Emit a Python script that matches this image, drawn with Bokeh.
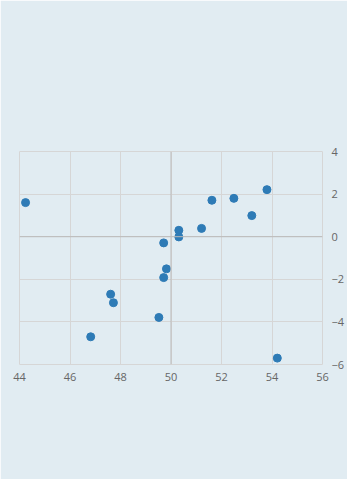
from bokeh.plotting import figure
from bokeh.models import Range1d, Span, FixedTicker
from bokeh.embed import file_html
from bokeh.resources import INLINE

x_vals = [44.24, 49.71, 50.31, 50.31, 51.21, 51.62, 52.49, 53.20, 53.80,
          49.82, 49.71, 47.61, 47.72, 49.52, 46.82, 54.21]
y_vals = [1.60, -0.29, 0.30, -0.01, 0.39, 1.71, 1.80, 0.99, 2.21,
          -1.51, -1.92, -2.70, -3.10, -3.79, -4.70, -5.70]
x_ticks = [44, 46, 48, 50, 52, 54, 56]
y_ticks = [-6, -4, -2, 0, 2, 4]

BG = "#e1ecf2"
GRID = "#d6d6d6"

p = figure(width=347, height=479, output_backend="svg", toolbar_location=None,
           x_range=Range1d(44, 56), y_range=Range1d(-6, 4),
           y_axis_location="right",
           min_border_left=19, min_border_right=22,
           min_border_top=151, min_border_bottom=115)
p.background_fill_color = BG
p.border_fill_color = BG
p.outline_line_color = GRID

for ax in (p.xaxis[0], p.yaxis[0]):
    ax.axis_line_color = None
    ax.major_tick_line_color = None
    ax.minor_tick_line_color = None
    ax.major_tick_out = 0
    ax.major_tick_in = 0
    ax.minor_tick_out = 0
    ax.minor_tick_in = 0
    ax.major_label_text_color = "#666666"
    ax.major_label_text_font = "Open Sans"
    ax.major_label_text_font_size = "11px"
p.xaxis[0].ticker = FixedTicker(ticks=x_ticks)
p.yaxis[0].ticker = FixedTicker(ticks=y_ticks)
p.xaxis[0].major_label_standoff = 8
p.yaxis[0].major_label_standoff = 9

p.xgrid.ticker = FixedTicker(ticks=x_ticks)
p.ygrid.ticker = FixedTicker(ticks=y_ticks)
p.grid.grid_line_color = GRID

p.add_layout(Span(location=50, dimension="height", line_color="#bbbbbb", line_width=1))
p.add_layout(Span(location=0, dimension="width", line_color="#bbbbbb", line_width=1))

p.scatter(x_vals, y_vals, size=8, fill_color="#2e7bb6", line_color="#2e7bb6")

open("out.html", "w").write(file_html(p, INLINE))
